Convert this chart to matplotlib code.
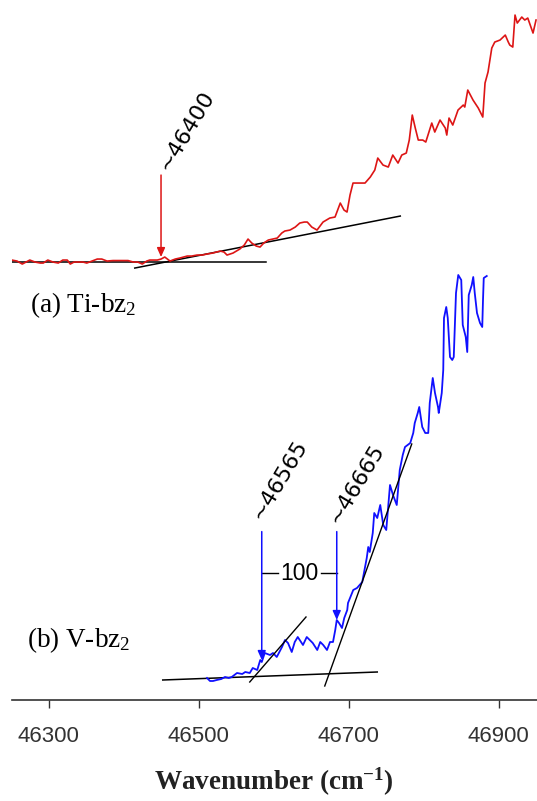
import matplotlib
matplotlib.use("Agg")
import matplotlib.pyplot as plt

plt.rcParams["mathtext.fontset"] = "custom"
plt.rcParams["mathtext.rm"] = "Liberation Serif"
plt.rcParams["mathtext.it"] = "Liberation Serif:italic"
plt.rcParams["mathtext.bf"] = "Liberation Serif:bold"

# ---- (a) Ti-bz2 spectrum: wavenumber (cm-1) and intensity (arb. units)
ti_wn = [46201, 46208, 46215, 46220, 46225, 46232, 46239, 46243, 46249, 46256,
         46263, 46269, 46275, 46279, 46284, 46289, 46296, 46301, 46308, 46315,
         46321, 46328, 46336, 46345, 46356, 46363, 46369, 46375, 46381, 46385,
         46395, 46400, 46405, 46412, 46419, 46425, 46435, 46441, 46448, 46455,
         46461, 46469, 46479, 46484, 46488, 46496, 46505, 46511, 46516, 46521,
         46527, 46532, 46537, 46543, 46549, 46555, 46561, 46565, 46572, 46579,
         46585, 46591, 46595, 46601, 46608, 46616, 46625, 46632, 46639, 46644,
         46648, 46652, 46656, 46663, 46672, 46679, 46685, 46689, 46696, 46703,
         46709, 46716, 46721, 46727, 46731, 46735, 46739, 46743, 46749, 46753,
         46761, 46765, 46772, 46779, 46781, 46784, 46789, 46796, 46803, 46805,
         46809, 46816, 46823, 46829, 46832, 46836, 46841, 46845, 46852, 46859,
         46863, 46865, 46869, 46872, 46875, 46881, 46885, 46889, 46896, 46900]
ti_int = [0.9, 0.5, -0.7, 0.1, 0.9, 0.1, -0.3, -0.3, 0.9, 0.1,
          -0.3, 0.9, 0.9, -0.7, 0.1, 0.1, 0.1, -0.3, 0.5, 1.3,
          1.3, 0.5, 0.7, 0.7, 0.7, 0.1, 0.1, -0.7, 0.5, 0.9,
          0.9, 1.3, 2.1, 0.5, 1.3, 1.7, 2.5, 2.5, 2.9, 2.9,
          3.3, 3.7, 4.5, 4.1, 2.9, 3.7, 5.3, 6.9, 9.3, 7.7,
          6.5, 6.1, 7.7, 8.9, 9.3, 9.7, 11.7, 12.5, 12.9, 14.1,
          15.7, 16.1, 16.1, 14.1, 12.9, 16.1, 17.7, 18.1, 23.7, 20.9,
          20.1, 26.9, 31.7, 31.7, 31.7, 34.1, 36.9, 41.7, 38.9, 38.1,
          42.9, 39.7, 42.9, 43.7, 48.9, 58.9, 53.7, 48.9, 48.9, 48.1,
          55.7, 52.1, 56.9, 53.7, 50.9, 57.7, 54.9, 60.9, 62.9, 62.1,
          68.9, 64.9, 61.7, 58.1, 71.7, 76.1, 85.7, 88.1, 88.9, 90.9,
          88.1, 86.9, 86.1, 98.9, 95.7, 98.1, 96.9, 97.7, 91.7, 96.9]

# baseline and onset tangent for (a)
ti_base_wn = [46201, 46540]
ti_base_int = [0.0, 0.0]
ti_tan_wn = [46365, 46719]
ti_tan_int = [-2.3, 18.5]
ti_onset = 46400
ti_arrow_int = [34.9, 2.1]  # arrow top, arrow tip

# ---- (b) V-bz2 spectrum
v_wn = [46492, 46496, 46500, 46505, 46511, 46516, 46521, 46525, 46532, 46539,
        46543, 46549, 46553, 46559, 46563, 46565, 46569, 46576, 46580, 46585,
        46592, 46596, 46600, 46605, 46609, 46613, 46620, 46625, 46629, 46633,
        46639, 46643, 46647, 46652, 46656, 46660, 46663, 46665, 46668, 46672,
        46675, 46679, 46680, 46687, 46692, 46699, 46705, 46707, 46709, 46713,
        46715, 46719, 46723, 46727, 46731, 46736, 46740, 46745, 46749, 46753,
        46756, 46763, 46767, 46769, 46773, 46775, 46779, 46783, 46787, 46789,
        46793, 46796, 46800, 46801, 46805, 46807, 46808, 46811, 46813, 46816,
        46819, 46821, 46824, 46827, 46831, 46833, 46837, 46839, 46841, 46845,
        46847, 46849, 46852, 46856, 46859, 46860, 46861, 46865]
v_int = [0.5, -0.25, -0.25, 0.0, 0.25, 0.75, 0.5, 0.75, 1.75, 1.5,
         2.0, 1.75, 3.0, 2.5, 5.0, 4.5, 6.75, 6.25, 6.75, 5.75,
         8.25, 10.0, 9.25, 7.0, 9.5, 10.75, 8.75, 10.75, 10.0, 9.25,
         7.5, 9.5, 8.75, 7.5, 9.5, 9.5, 12.5, 15.0, 14.25, 13.0,
         15.5, 17.5, 19.25, 22.5, 23.0, 24.5, 30.5, 33.25, 32.0, 36.75,
         41.75, 40.5, 43.75, 38.75, 37.5, 48.75, 46.25, 43.75, 52.5, 56.25,
         58.25, 59.25, 61.75, 64.25, 66.75, 68.25, 63.25, 61.75, 61.75, 69.25,
         75.5, 71.75, 68.25, 66.75, 71.75, 77.5, 90.5, 93.25, 90.5, 80.75,
         80.0, 80.75, 96.75, 101.25, 100.0, 88.75, 85.75, 82.0, 96.25, 98.75,
         100.75, 96.75, 91.75, 89.25, 88.25, 95.0, 100.5, 101.0]

v_base_wn = [46433, 46719]
v_base_int = [0.0, 2.0]
v_tan1_wn = [46549, 46624]
v_tan1_int = [-0.5, 15.75]
v_tan2_wn = [46649, 46765]
v_tan2_int = [-1.5, 59.0]
v_onsets = [46565, 46665]
v_arrow_top = 37.1
v_arrow_tips = [5.0, 15.0]
v_spacing_int = 26.75

axis_ticks = [46300, 46500, 46700, 46900]

RED = "#dd1515"
BLUE = "#1010ff"
W, H = 537, 801


def rect(x0, y_top, x1, y_bot):
    return [x0 / W, 1 - y_bot / H, (x1 - x0) / W, (y_bot - y_top) / H]


fig = plt.figure(figsize=(W / 100, H / 100), dpi=100)

# panel (a)
ax_a = fig.add_axes(rect(12, 0, 537, 300))
ax_a.set_xlim(46201.3, 46901.3)
ax_a.set_ylim(-15.08, 104.92)
ax_a.axis("off")
ax_a.plot(ti_wn, ti_int, color=RED, lw=1.2, zorder=3)
ax_a.plot(ti_base_wn, ti_base_int, color="black", lw=1.1, zorder=2)
ax_a.plot(ti_tan_wn, ti_tan_int, color="black", lw=1.1, zorder=2)
ax_a.annotate("", xy=(ti_onset, ti_arrow_int[1]), xytext=(ti_onset, ti_arrow_int[0]),
              arrowprops=dict(arrowstyle="-|>,head_length=0.45,head_width=0.2",
                              color=RED, lw=1.1, shrinkA=0, shrinkB=0,
                              mutation_scale=12), zorder=4)
ax_a.annotate("~%d" % ti_onset, xy=(ti_onset, ti_arrow_int[0]), xytext=(1.5, 4.3),
              textcoords="offset points", rotation=59, rotation_mode="anchor",
              ha="left", va="center", fontsize=16, family="DejaVu Sans")

# panel (b)
ax_b = fig.add_axes(rect(12, 260, 537, 700))
ax_b.set_xlim(46232, 46932)
ax_b.set_ylim(-5, 105)
ax_b.axis("off")
ax_b.plot(v_wn, v_int, color=BLUE, lw=1.3, zorder=3)
ax_b.plot(v_base_wn, v_base_int, color="black", lw=1.1, zorder=2)
ax_b.plot(v_tan1_wn, v_tan1_int, color="black", lw=1.0, zorder=4)
ax_b.plot(v_tan2_wn, v_tan2_int, color="black", lw=1.0, zorder=4)
label_offsets = [(-3.6, 10.0), (-2.2, 7.2)]
for wn, tip, off in zip(v_onsets, v_arrow_tips, label_offsets):
    ax_b.annotate("", xy=(wn, tip), xytext=(wn, v_arrow_top),
                  arrowprops=dict(arrowstyle="-|>,head_length=0.45,head_width=0.2",
                                  color=BLUE, lw=1.1, shrinkA=0, shrinkB=0,
                                  mutation_scale=12), zorder=5)
    ax_b.annotate("~%d" % wn, xy=(wn, v_arrow_top), xytext=off,
                  textcoords="offset points", rotation=59, rotation_mode="anchor",
                  ha="left", va="center", fontsize=16, family="DejaVu Sans")
gap = v_onsets[1] - v_onsets[0]
mid = (v_onsets[0] + v_onsets[1]) / 2
ax_b.plot([v_onsets[0], mid - 29], [v_spacing_int] * 2, color="black", lw=1.0)
ax_b.plot([mid + 29, v_onsets[1]], [v_spacing_int] * 2, color="black", lw=1.0)
ax_b.text(mid, v_spacing_int, "%d" % gap, ha="center", va="center",
          fontsize=16.5, family="Liberation Sans")

# wavenumber axis
ax_x = fig.add_axes(rect(12, 260, 537, 700), facecolor="none")
ax_x.set_xlim(46251, 46951)
ax_x.set_ylim(0, 1)
for side in ("top", "left", "right"):
    ax_x.spines[side].set_visible(False)
ax_x.spines["bottom"].set_linewidth(1.2)
ax_x.spines["bottom"].set_color("#333333")
ax_x.set_yticks([])
ax_x.set_xticks(axis_ticks)
ax_x.set_xticklabels([str(t) for t in axis_ticks], family="Liberation Sans",
                     fontsize=16, color="#333333")
ax_x.tick_params(axis="x", direction="out", length=6, width=1.0,
                 color="#333333", pad=13)

fig.text(30 / W, 1 - 312 / H, r"(a) Ti-bz$_2$", family="Liberation Serif",
         fontsize=19.5, va="baseline", ha="left")
fig.text(27 / W, 1 - 647 / H, r"(b) V-bz$_2$", family="Liberation Serif",
         fontsize=19.5, va="baseline", ha="left")
fig.text(274 / W, 1 - 790 / H, r"Wavenumber (cm$^{\mathbf{-1}}$)",
         family="Liberation Serif", fontweight="bold", fontsize=19.5,
         va="baseline", ha="center", color="#222222")

fig.savefig("out.png", dpi=100)
